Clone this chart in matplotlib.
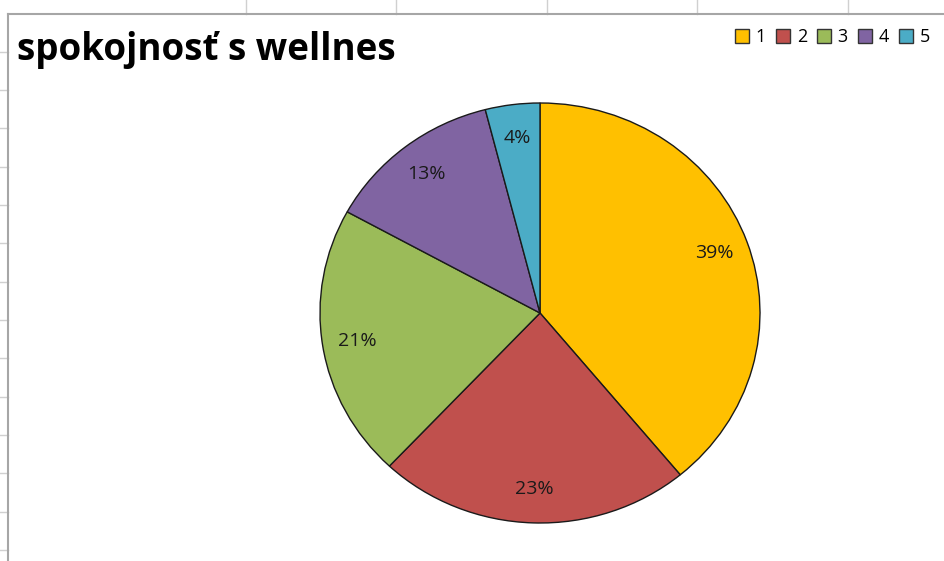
import matplotlib
matplotlib.use("Agg")
import matplotlib.pyplot as plt
from matplotlib.patches import Patch
from matplotlib.lines import Line2D

categories = ["1", "2", "3", "4", "5"]
values = [39, 23, 21, 13, 4]
colors = ["#FFC000", "#C0504D", "#9BBB59", "#8064A2", "#4BACC6"]
title = "spokojnosť s wellnes"

W, H = 945, 561
fig = plt.figure(figsize=(W / 100, H / 100), dpi=100)
fig.patch.set_facecolor("white")

def fx(px):
    return px / W

def fy(py):
    return 1 - py / H

# spreadsheet grid around the chart object
grid_c = "#D0D0D0"
for x in [246, 396, 547, 697, 848]:
    fig.add_artist(Line2D([fx(x), fx(x)], [fy(0), fy(14)], color=grid_c, lw=1))
for y in [52, 90, 128, 167, 205, 243, 282, 320, 358, 397, 435, 473, 512, 550]:
    fig.add_artist(Line2D([fx(0), fx(8)], [fy(y), fy(y)], color=grid_c, lw=1))
# chart border
fig.add_artist(Line2D([fx(8), fx(8)], [fy(14), fy(H)], color="#A6A6A6", lw=1.5))
fig.add_artist(Line2D([fx(8), fx(W)], [fy(14), fy(14)], color="#A6A6A6", lw=1.5))

plt.rcParams["font.family"] = ["Open Sans", "DejaVu Sans"]

# pie axes: centre (540, 313) px, radii 220 x 210 px
cx, cy, rx, ry = 540, 313, 220, 210
xl, yl = 1.5, 1.15
ax = fig.add_axes([fx(cx - xl * rx), fy(cy + yl * ry), 2 * xl * rx / W, 2 * yl * ry / H])
ax.pie(values, colors=colors, startangle=90, counterclock=False,
       autopct=lambda p: f"{p:.0f}%", pctdistance=0.84,
       wedgeprops=dict(edgecolor="#1a1a1a", linewidth=1.0),
       textprops=dict(fontsize=14, color="#1a1a1a"))
ax.set_xlim(-xl, xl)
ax.set_ylim(-yl, yl)
ax.set_aspect("auto")
ax.axis("off")

fig.text(fx(17), fy(60), title, fontsize=26.5, fontweight="bold",
         ha="left", va="baseline", color="black")

handles = [Patch(facecolor=c, edgecolor="#333333", linewidth=1.0) for c in colors]
fig.legend(handles, categories, loc="upper left", bbox_to_anchor=(fx(735), fy(28)),
           ncol=5, frameon=False, fontsize=13, handlelength=0.8, handleheight=0.8,
           handletextpad=0.35, columnspacing=0.55, borderaxespad=0, borderpad=0)

fig.savefig("out.png", dpi=100)
